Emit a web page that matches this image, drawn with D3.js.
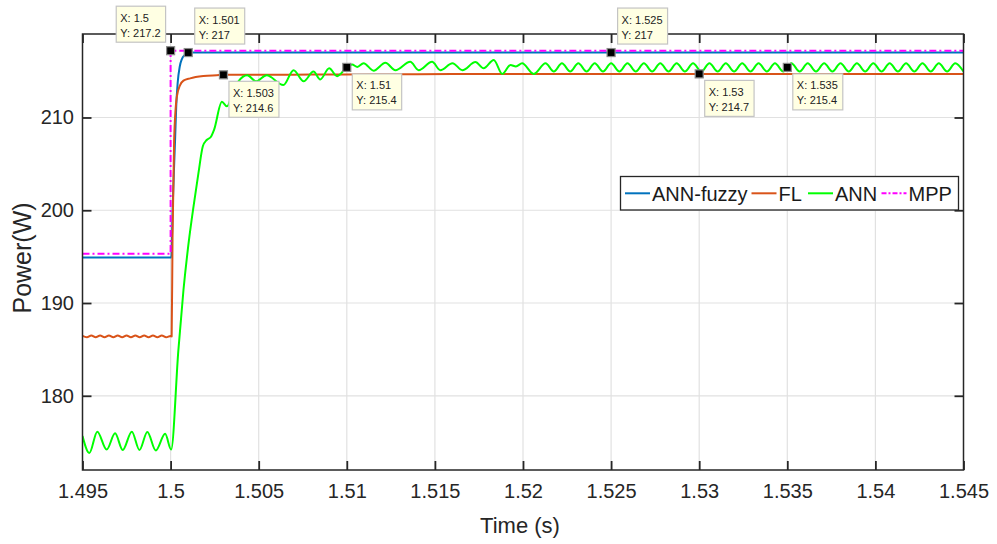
<!DOCTYPE html>
<html>
<head>
<meta charset="utf-8">
<script src="https://cdn.jsdelivr.net/npm/d3@7"></script>
<style>
  html, body { margin: 0; padding: 0; background: #ffffff; }
  svg { display: block; font-family: "Liberation Sans", Arial, Helvetica, sans-serif; }
</style>
</head>
<body>
<svg id="chart" width="997" height="544"></svg>
<script>
// ---- axis ticks ----
const xTicks = [1.495, 1.5, 1.505, 1.51, 1.515, 1.52, 1.525, 1.53, 1.535, 1.54, 1.545];
const xTickLabels = ["1.495", "1.5", "1.505", "1.51", "1.515", "1.52", "1.525", "1.53", "1.535", "1.54", "1.545"];
const yTicks = [180, 190, 200, 210];
const yTickLabels = ["180", "190", "200", "210"];

// ---- series: ANN-fuzzy ----
const fuzzyTime = [1.49500, 1.50004, 1.50012, 1.50026, 1.50032, 1.50040, 1.50052, 1.50064, 1.50082, 1.50100, 1.52500, 1.54500];
const fuzzyPower = [194.90, 194.90, 200.50, 207.90, 211.20, 213.70, 215.50, 216.30, 216.75, 217.00, 217.00, 217.00];

// ---- series: FL ----
const flTime = [1.49500, 1.49525, 1.49550, 1.49575, 1.49600, 1.49625, 1.49650, 1.49675, 1.49700, 1.49725,
                1.49750, 1.49775, 1.49800, 1.49825, 1.49850, 1.49875, 1.49900, 1.49925, 1.49950, 1.49975,
                1.50000, 1.50006, 1.50011, 1.50020, 1.50035, 1.50054, 1.50073, 1.50111, 1.50186, 1.50263,
                1.50300, 1.50500, 1.50800, 1.51200, 1.51600, 1.52000, 1.53000, 1.54500];
const flPower = [186.45, 186.30, 186.50, 186.30, 186.50, 186.30, 186.50, 186.30, 186.50, 186.30,
                 186.50, 186.30, 186.50, 186.30, 186.50, 186.30, 186.50, 186.30, 186.50, 186.30,
                 186.45, 186.40, 197.00, 207.60, 212.20, 213.50, 213.97, 214.22, 214.47, 214.56,
                 214.60, 214.60, 214.63, 214.66, 214.68, 214.70, 214.70, 214.70];

// ---- series: ANN ----
const annTime = [1.49500, 1.49539, 1.49584, 1.49637, 1.49685, 1.49728, 1.49780, 1.49823, 1.49868, 1.49916,
                 1.49969, 1.50003, 1.50044, 1.50073, 1.50107, 1.50130, 1.50158, 1.50183, 1.50206, 1.50228,
                 1.50247, 1.50291, 1.50320, 1.50357, 1.50385, 1.50435, 1.50485, 1.50545, 1.50640, 1.50698,
                 1.50755, 1.50811, 1.50849, 1.50900, 1.50945, 1.51000, 1.51030, 1.51060, 1.51095, 1.51152,
                 1.51219, 1.51276, 1.51360, 1.51408, 1.51484, 1.51531, 1.51600, 1.51656, 1.51730, 1.51776,
                 1.51834, 1.51882, 1.51929, 1.51960, 1.51995, 1.52061, 1.52128, 1.52175, 1.52221, 1.52268,
                 1.52314, 1.52361, 1.52407, 1.52454, 1.52500, 1.52547, 1.52593, 1.52640, 1.52686, 1.52733,
                 1.52779, 1.52826, 1.52872, 1.52919, 1.52965, 1.53012, 1.53058, 1.53105, 1.53151, 1.53198,
                 1.53244, 1.53291, 1.53337, 1.53384, 1.53430, 1.53477, 1.53523, 1.53570, 1.53616, 1.53663,
                 1.53709, 1.53756, 1.53802, 1.53849, 1.53895, 1.53942, 1.53988, 1.54035, 1.54081, 1.54128,
                 1.54174, 1.54221, 1.54267, 1.54314, 1.54360, 1.54407, 1.54453, 1.54500];
const annPower = [175.67, 173.83, 176.13, 174.20, 175.95, 174.16, 176.13, 174.16, 176.10, 174.10,
                  175.90, 174.20, 184.90, 191.40, 197.20, 200.40, 204.00, 206.90, 207.60, 207.90,
                  208.70, 211.70, 211.20, 213.00, 213.90, 214.55, 213.90, 214.55, 213.50, 215.10,
                  213.90, 214.95, 214.10, 215.30, 214.45, 215.40, 215.70, 215.45, 215.85, 215.05,
                  215.90, 215.10, 216.00, 215.10, 216.00, 215.10, 215.86, 215.10, 215.97, 215.30,
                  216.20, 214.70, 215.66, 215.50, 215.84, 214.70, 215.85, 214.95, 215.85, 214.95,
                  215.85, 214.95, 215.85, 214.95, 215.85, 214.95, 215.85, 214.95, 215.85, 214.95,
                  215.85, 214.95, 215.85, 214.95, 215.85, 214.95, 215.85, 214.95, 215.85, 214.95,
                  215.85, 214.95, 215.85, 214.95, 215.85, 214.95, 215.85, 214.95, 215.85, 214.95,
                  215.85, 214.95, 215.85, 214.95, 215.85, 214.95, 215.85, 214.95, 215.85, 214.95,
                  215.85, 214.95, 215.85, 214.95, 215.85, 214.95, 215.85, 214.95];

// ---- series: MPP reference ----
const mppTime = [1.495, 1.5, 1.5, 1.545];
const mppPower = [195.3, 195.3, 217.2, 217.2];

// ---- data tips ----
const tipTime = [1.5, 1.501, 1.503, 1.51, 1.525, 1.53, 1.535];
const tipPower = [217.2, 217, 214.6, 215.4, 217, 214.7, 215.4];

// ---- legend ----
const seriesNames = ["ANN-fuzzy", "FL", "ANN", "MPP"];
const seriesColors = ["#0072BD", "#D95319", "#00FF00", "#FF00FF"];

// ================= drawing =================
(function () {
  const svg = d3.select("#chart");
  const pL = 82.5, pR = 963.5, pT = 34, pB = 470;
  const axisColor = "#262626";

  const x = d3.scaleLinear().domain([1.495, 1.545]).range([pL, pR]);
  const y = d3.scaleLinear().domain([172, 219]).range([pB, pT]);

  svg.append("rect").attr("width", 997).attr("height", 544).attr("fill", "#ffffff");

  // grid
  const grid = svg.append("g").attr("stroke", "#e1e1e1").attr("stroke-width", 1.2);
  grid.selectAll("line.gx").data(xTicks.slice(1, -1)).join("line")
    .attr("x1", d => x(d)).attr("x2", d => x(d)).attr("y1", pT).attr("y2", pB);
  grid.selectAll("line.gy").data(yTicks).join("line")
    .attr("x1", pL).attr("x2", pR).attr("y1", d => y(d)).attr("y2", d => y(d));

  // series
  const series = [
    { t: fuzzyTime, v: fuzzyPower, color: seriesColors[0], curve: d3.curveMonotoneX, dash: null },
    { t: flTime, v: flPower, color: seriesColors[1], curve: d3.curveMonotoneX, dash: null },
    { t: annTime, v: annPower, color: seriesColors[2], curve: d3.curveMonotoneX, dash: null },
    { t: mppTime, v: mppPower, color: seriesColors[3], curve: d3.curveLinear, dash: "7,3,2,3" }
  ];
  svg.append("clipPath").attr("id", "clip").append("rect")
    .attr("x", pL).attr("y", pT).attr("width", pR - pL).attr("height", pB - pT);
  const lines = svg.append("g").attr("clip-path", "url(#clip)");
  series.forEach(s => {
    const line = d3.line().x(i => x(s.t[i])).y(i => y(s.v[i])).curve(s.curve);
    lines.append("path")
      .attr("d", line(d3.range(s.t.length)))
      .attr("fill", "none")
      .attr("stroke", s.color)
      .attr("stroke-width", 2)
      .attr("stroke-linejoin", "round")
      .attr("stroke-dasharray", s.dash);
  });

  // axes (ticks point inward, box on all four sides)
  const tickLen = 9;
  const xAxis = d3.axisBottom(x).tickValues(xTicks).tickFormat((d, i) => xTickLabels[i])
    .tickSizeInner(-tickLen).tickSizeOuter(0).tickPadding(14);
  const yAxis = d3.axisLeft(y).tickValues(yTicks).tickFormat((d, i) => yTickLabels[i])
    .tickSizeInner(-tickLen).tickSizeOuter(0).tickPadding(8.5);
  const gx = svg.append("g").attr("transform", `translate(0,${pB})`).call(xAxis);
  const gxt = svg.append("g").attr("transform", `translate(0,${pT})`)
    .call(d3.axisTop(x).tickValues(xTicks).tickFormat("").tickSizeInner(-tickLen).tickSizeOuter(0));
  const gy = svg.append("g").attr("transform", `translate(${pL},0)`).call(yAxis);
  const gyr = svg.append("g").attr("transform", `translate(${pR},0)`)
    .call(d3.axisRight(y).tickValues(yTicks).tickFormat("").tickSizeInner(-tickLen).tickSizeOuter(0));
  [gx, gxt, gy, gyr].forEach(g => {
    g.select(".domain").remove();
    g.selectAll(".tick line").attr("stroke", axisColor).attr("stroke-width", 1.8);
    g.selectAll(".tick text").attr("fill", axisColor).attr("font-size", 20)
      .attr("font-family", "'Liberation Sans', Arial, sans-serif");
  });
  svg.append("rect").attr("x", pL).attr("y", pT).attr("width", pR - pL).attr("height", pB - pT)
    .attr("fill", "none").attr("stroke", axisColor).attr("stroke-width", 1.5);

  // axis titles
  svg.append("text").attr("x", (pL + pR) / 2 - 3).attr("y", 533)
    .attr("text-anchor", "middle").attr("font-size", 22).attr("fill", axisColor).text("Time (s)");
  svg.append("text").attr("transform", `translate(31,${(pT + pB) / 2 + 6}) rotate(-90)`)
    .attr("text-anchor", "middle").attr("font-size", 25).attr("fill", axisColor).text("Power(W)");

  // legend
  const lg = svg.append("g").attr("transform", "translate(620.5,176.5)");
  lg.append("rect").attr("width", 338).attr("height", 33.5).attr("fill", "#ffffff")
    .attr("stroke", axisColor).attr("stroke-width", 1.3);
  const itemX = [4.5, 131, 187.5, 261];
  seriesNames.forEach((name, i) => {
    lg.append("line").attr("x1", itemX[i]).attr("x2", itemX[i] + 25).attr("y1", 16.8).attr("y2", 16.8)
      .attr("stroke", seriesColors[i]).attr("stroke-width", 2)
      .attr("stroke-dasharray", i === 3 ? "5,2,2,2" : null);
    lg.append("text").attr("x", itemX[i] + 27).attr("y", 24).attr("font-size", 20)
      .attr("fill", "#1a1a1a").text(name);
  });

  // data tips
  const tipSide = ["nw", "ne", "se", "se", "ne", "se", "se"];
  const tips = svg.append("g");
  tipTime.forEach((t, i) => {
    const mx = x(t), my = y(tipPower[i]);
    const g = tips.append("g");
    const box = g.append("rect").attr("fill", "#ffffe3").attr("stroke", "#c4c4c4").attr("stroke-width", 1.2);
    const t1 = g.append("text").attr("font-size", 11).attr("fill", "#222").text("X: " + String(t));
    const t2 = g.append("text").attr("font-size", 11).attr("fill", "#222").text("Y: " + String(tipPower[i]));
    const w = Math.max(t1.node().getComputedTextLength(), t2.node().getComputedTextLength()) + 9;
    const h = 36;
    let bx, by;
    if (tipSide[i] === "nw") { bx = mx - 5 - w; by = my - 44.5; }
    else if (tipSide[i] === "ne") { bx = mx + 6.5; by = my - 44.5; }
    else { bx = mx + 5.5; by = my + 6.5; }
    box.attr("x", bx).attr("y", by).attr("width", w).attr("height", h);
    t1.attr("x", bx + 4).attr("y", by + 15.5);
    t2.attr("x", bx + 4).attr("y", by + 30.5);
    g.append("rect").attr("x", mx - 4).attr("y", my - 4).attr("width", 8).attr("height", 8)
      .attr("fill", "#000").attr("stroke", "#8a8a8a").attr("stroke-width", 1.2);
  });
})();
</script>
</body>
</html>
